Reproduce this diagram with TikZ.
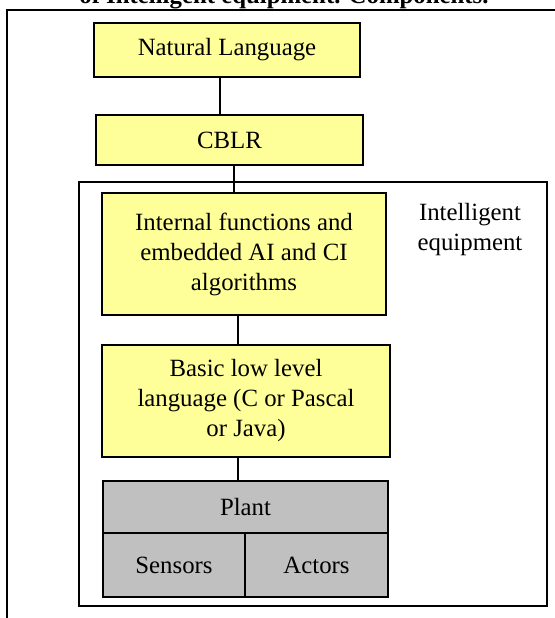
\documentclass[tikz,border=0pt]{standalone}
\usepackage{fontspec}
\setmainfont{Liberation Serif}
\usepackage{xcolor}
\usetikzlibrary{calc, positioning}

\definecolor{boxyellow}{HTML}{FFFF99}
\definecolor{plantgray}{HTML}{C0C0C0}

\begin{document}
\begin{tikzpicture}[x=0.5pt, y=-0.5pt,
    every node/.style={font=\fontsize{12.4}{15}\selectfont},
    ybox/.style={draw, line width=1pt, fill=boxyellow, align=center, inner sep=0pt},
    gbox/.style={draw, line width=1pt, fill=plantgray, align=center, inner sep=0pt},
    link/.style={line width=0.8pt}]
                    \useasboundingbox (0, 0) rectangle (555, 618);
                    % frame of the figure and its cut caption
                    \node[anchor=base, font=\fontsize{12.4}{15}\selectfont\bfseries] (title) at (284, 3) {of Intelligent equipment. Components.};
                    \draw[line width=0.9pt] (7, 640) -- (7, 10) -- (580, 10);
                    % equipment frame
                    \draw[line width=0.9pt] (79, 182) rectangle (547, 606);
                    \node[align=center] (ielabel) at (470, 230) {Intelligent\\equipment};
                    \node[ybox, minimum width=133pt, minimum height=27pt] (nl) at (227, 50) {Natural Language};
                    \node[ybox, minimum width=133.5pt, minimum height=25pt] (cblr) at (229.5, 140) {CBLR};
                    \node[ybox, minimum width=142pt, minimum height=61pt] (intf) at (244, 254) {Internal functions and\\embedded AI and CI\\algorithms};
                    \node[ybox, minimum width=144pt, minimum height=56pt] (basic) at (246, 401) {Basic low level\\language (C or Pascal\\or Java)};
                    \node[gbox, minimum width=142.5pt, minimum height=26pt] (plant) at (245.5, 507) {Plant};
                    \node[gbox, minimum width=71pt, minimum height=32pt] (sensors) at (174, 565) {Sensors};
                    \node[gbox, minimum width=71.5pt, minimum height=32pt] (actors) at (316.5, 565) {Actors};
                    \draw[link]
                    ([xshift=-3.5pt]nl.south) -- ([xshift=-3.5pt]nl.south |- cblr.north)
                    ([xshift=2.25pt]cblr.south) -- ([xshift=2.25pt]cblr.south |- intf.north)
                    ([xshift=-3pt]intf.south) -- ([xshift=-3pt]intf.south |- basic.north)
                    ([xshift=-4pt]basic.south) -- ([xshift=-4pt]basic.south |- plant.north);
                \end{tikzpicture}
\end{document}
